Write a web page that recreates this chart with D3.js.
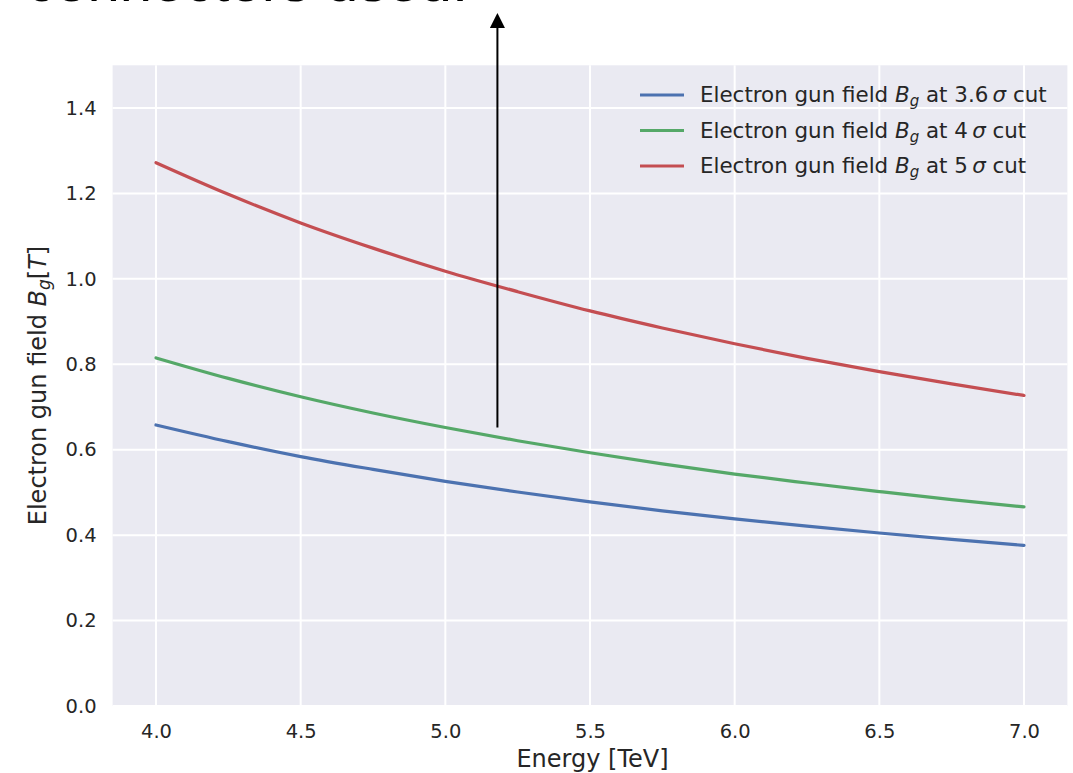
<!DOCTYPE html>
<html>
<head>
<meta charset="utf-8">
<script src="https://cdn.jsdelivr.net/npm/d3@7"></script>
<style>
body { margin: 0; background: #fff; }
svg { display: block; }
text { font-family: "DejaVu Sans", sans-serif; fill: #262626; }
.tick text { font-size: 19.5px; }
</style>
</head>
<body>
<svg width="1073" height="773"></svg>
<script>
// energies (TeV)
var energy = [4.0, 4.25, 4.5, 4.75, 5.0, 5.25, 5.5, 5.75, 6.0, 6.25, 6.5, 6.75, 7.0];
// electron gun field B_g [T] for each cut
var bg36 = [0.658, 0.619, 0.584, 0.554, 0.526, 0.501, 0.478, 0.457, 0.438, 0.421, 0.405, 0.390, 0.376];
var bg4  = [0.815, 0.767, 0.724, 0.686, 0.652, 0.621, 0.593, 0.567, 0.543, 0.522, 0.502, 0.483, 0.466];
var bg5  = [1.272, 1.198, 1.131, 1.072, 1.018, 0.970, 0.925, 0.885, 0.848, 0.814, 0.783, 0.754, 0.727];
var cuts = ["3.6", "4", "5"];
var xTicks = [4.0, 4.5, 5.0, 5.5, 6.0, 6.5, 7.0];
var yTicks = [0.0, 0.2, 0.4, 0.6, 0.8, 1.0, 1.2, 1.4];
var colors = ["#4C72B0", "#55A868", "#C44E52"];
var arrowE = 5.18, arrowB = 0.652;

var svg = d3.select("svg");
var pLeft = 112.6, pRight = 1067.4, pTop = 65.3, pBottom = 706;

var x = d3.scaleLinear().domain([3.85, 7.15]).range([pLeft, pRight]);
var y = d3.scaleLinear().domain([0, 1.5]).range([pBottom, pTop]);

// cropped slide title above the chart
svg.append("text")
    .attr("x", 468)
    .attr("y", 1)
    .attr("text-anchor", "end")
    .style("font-family", "'Liberation Sans', Arial, sans-serif")
    .style("font-size", "58px")
    .style("fill", "#000")
    .text("connectors used.");

svg.append("rect")
    .attr("x", pLeft).attr("y", pTop)
    .attr("width", pRight - pLeft).attr("height", pBottom - pTop)
    .attr("fill", "#EAEAF2");

var g = svg.append("g");

// grid
g.selectAll(".vgrid").data(xTicks).enter().append("line")
    .attr("x1", d => x(d)).attr("x2", d => x(d))
    .attr("y1", pTop).attr("y2", pBottom)
    .attr("stroke", "#fff").attr("stroke-width", 2);
g.selectAll(".hgrid").data(yTicks).enter().append("line")
    .attr("x1", pLeft).attr("x2", pRight)
    .attr("y1", d => y(d)).attr("y2", d => y(d))
    .attr("stroke", "#fff").attr("stroke-width", 2);

var xAxis = svg.append("g")
    .attr("transform", "translate(0," + pBottom + ")")
    .call(d3.axisBottom(x).tickValues(xTicks).tickSize(0).tickPadding(18.5).tickFormat(d3.format(".1f")));
xAxis.select(".domain").remove();

var yAxis = svg.append("g")
    .attr("transform", "translate(" + pLeft + ",0)")
    .call(d3.axisLeft(y).tickValues(yTicks).tickSize(0).tickPadding(16).tickFormat(d3.format(".1f")));
yAxis.select(".domain").remove();
svg.selectAll(".tick text").style("fill", "#262626");

// curves
var series = [bg36, bg4, bg5];
var line = d3.line()
    .x((d, i) => x(energy[i]))
    .y(d => y(d))
    .curve(d3.curveMonotoneX);

series.forEach(function(s, k) {
    g.append("path")
        .datum(s)
        .attr("fill", "none")
        .attr("stroke", colors[k])
        .attr("stroke-width", 3.2)
        .attr("stroke-linecap", "round")
        .attr("d", line);
});

// axis labels
svg.append("text")
    .attr("x", 592.5)
    .attr("y", 767)
    .attr("text-anchor", "middle")
    .style("font-size", "24px")
    .text("Energy [TeV]");

var yl = svg.append("text")
    .attr("transform", "translate(46,385.5) rotate(-90)")
    .attr("text-anchor", "middle")
    .style("font-size", "24px");
yl.append("tspan").text("Electron gun field ");
yl.append("tspan").style("font-style", "italic").text("B");
yl.append("tspan").style("font-style", "italic").style("font-size", "17px").attr("dy", 4).text("g");
yl.append("tspan").attr("dy", -4).text("[");
yl.append("tspan").style("font-style", "italic").text("T");
yl.append("tspan").text("]");

// legend
var leg = svg.append("g");
cuts.forEach(function(c, k) {
    var ly = 95 + k * 35.5;
    leg.append("line")
        .attr("x1", 640).attr("x2", 684)
        .attr("y1", ly).attr("y2", ly)
        .attr("stroke", colors[k]).attr("stroke-width", 3.2);
    var t = leg.append("text")
        .attr("x", 700).attr("y", ly + 7)
        .style("font-size", "21.4px");
    t.append("tspan").text("Electron gun field ");
    t.append("tspan").style("font-style", "italic").text("B");
    t.append("tspan").style("font-style", "italic").style("font-size", "15px").attr("dy", 4).text("g");
    t.append("tspan").attr("dy", -4).text(" at " + c + "\u2009");
    t.append("tspan").style("font-style", "italic").text("\u03c3");
    t.append("tspan").text(" cut");
});

// annotation arrow
svg.append("defs").append("marker")
    .attr("id", "head")
    .attr("viewBox", "0 0 10 10")
    .attr("refX", 0).attr("refY", 5)
    .attr("markerWidth", 7.5).attr("markerHeight", 7.5)
    .attr("markerUnits", "strokeWidth")
    .attr("orient", "auto")
    .append("path").attr("d", "M0,0 L10,5 L0,10 Z").attr("fill", "#000");

svg.append("line")
    .attr("x1", x(arrowE)).attr("x2", x(arrowE))
    .attr("y1", y(arrowB)).attr("y2", 28)
    .attr("stroke", "#000").attr("stroke-width", 2)
    .attr("marker-end", "url(#head)");
</script>
</body>
</html>
